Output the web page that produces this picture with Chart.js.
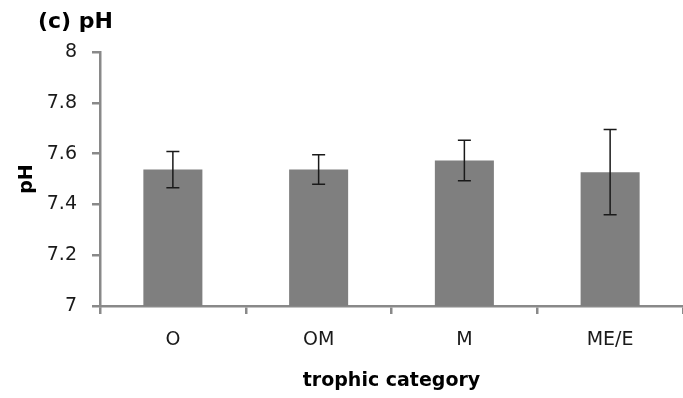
<!DOCTYPE html>
<html>
<head>
<meta charset="utf-8">
<script src="https://cdn.jsdelivr.net/npm/chart.js@4/dist/chart.umd.min.js"></script>
<style>
  html, body { margin: 0; padding: 0; background: #fff; }
  #wrap { width: 683px; height: 398px; position: relative; }
</style>
</head>
<body>
<div id="wrap"><canvas id="c"></canvas></div>
<script>
const categories = ['O', 'OM', 'M', 'ME/E']
const meanPH = [7.537, 7.537, 7.573, 7.527]
const errPH = [0.071, 0.058, 0.08, 0.168]
const yTicks = [7, 7.2, 7.4, 7.6, 7.8, 8]

const axisGray = '#898989'
const font = "'DejaVu Sans', 'Liberation Sans', sans-serif"

// error bars drawn from the bar elements + y scale
const errorBars = {
  id: 'errorBars',
  afterDatasetsDraw(chart) {
    const ctx = chart.ctx
    const y = chart.scales.y
    const meta = chart.getDatasetMeta(0)
    ctx.save()
    ctx.strokeStyle = '#1a1a1a'
    ctx.lineWidth = 1.5
    meta.data.forEach((bar, i) => {
      const top = y.getPixelForValue(meanPH[i] + errPH[i])
      const bot = y.getPixelForValue(meanPH[i] - errPH[i])
      const cap = 6.5
      ctx.beginPath()
      ctx.moveTo(bar.x, top); ctx.lineTo(bar.x, bot)
      ctx.moveTo(bar.x - cap, top); ctx.lineTo(bar.x + cap, top)
      ctx.moveTo(bar.x - cap, bot); ctx.lineTo(bar.x + cap, bot)
      ctx.stroke()
    })
    ctx.restore()
  }
}

const panelTitle = {
  id: 'panelTitle',
  afterDraw(chart) {
    const ctx = chart.ctx
    ctx.save()
    ctx.fillStyle = '#000'
    ctx.font = "bold 22px " + font
    ctx.textBaseline = 'middle'
    ctx.fillText('(c) pH', 38, 22)
    ctx.restore()
  }
}

new Chart(document.getElementById('c'), {
  type: 'bar',
  data: {
    labels: categories,
    datasets: [{
      data: meanPH,
      backgroundColor: '#7f7f7f',
      borderWidth: 0,
      categoryPercentage: 1,
      barPercentage: 0.405
    }]
  },
  options: {
    responsive: true,
    maintainAspectRatio: false,
    animation: false,
    layout: { padding: { top: 52, left: 0, right: 0, bottom: 0 } },
    plugins: {
      legend: { display: false },
      tooltip: { enabled: false }
    },
    scales: {
      x: {
        grid: { drawOnChartArea: false, drawTicks: true, tickLength: 8, color: axisGray, lineWidth: 2.5 },
        border: { display: true, color: axisGray, width: 2.5 },
        ticks: { color: '#1a1a1a', font: { family: font, size: 19 }, padding: 15, maxRotation: 0 },
        title: {
          display: true,
          text: 'trophic category',
          color: '#000',
          font: { family: font, size: 19, weight: 'bold' },
          padding: { top: 0, bottom: 6 }
        },
        afterFit: (scale) => { scale.height = 92 }
      },
      y: {
        min: 7,
        max: 8,
        afterBuildTicks: (scale) => { scale.ticks = yTicks.map(v => ({ value: v })) },
        grid: { drawOnChartArea: false, drawTicks: true, tickLength: 8, color: axisGray, lineWidth: 2.5 },
        border: { display: true, color: axisGray, width: 2.5 },
        ticks: {
          color: '#1a1a1a',
          font: { family: font, size: 19 },
          padding: 15,
          callback: (v) => String(Math.round(v * 10) / 10)
        },
        title: {
          display: true,
          text: 'pH',
          color: '#000',
          font: { family: font, size: 19, weight: 'bold' },
          padding: { top: 16, bottom: 0 }
        },
        afterFit: (scale) => { scale.width = 100 }
      }
    }
  },
  plugins: [errorBars, panelTitle]
})
</script>
</body>
</html>
